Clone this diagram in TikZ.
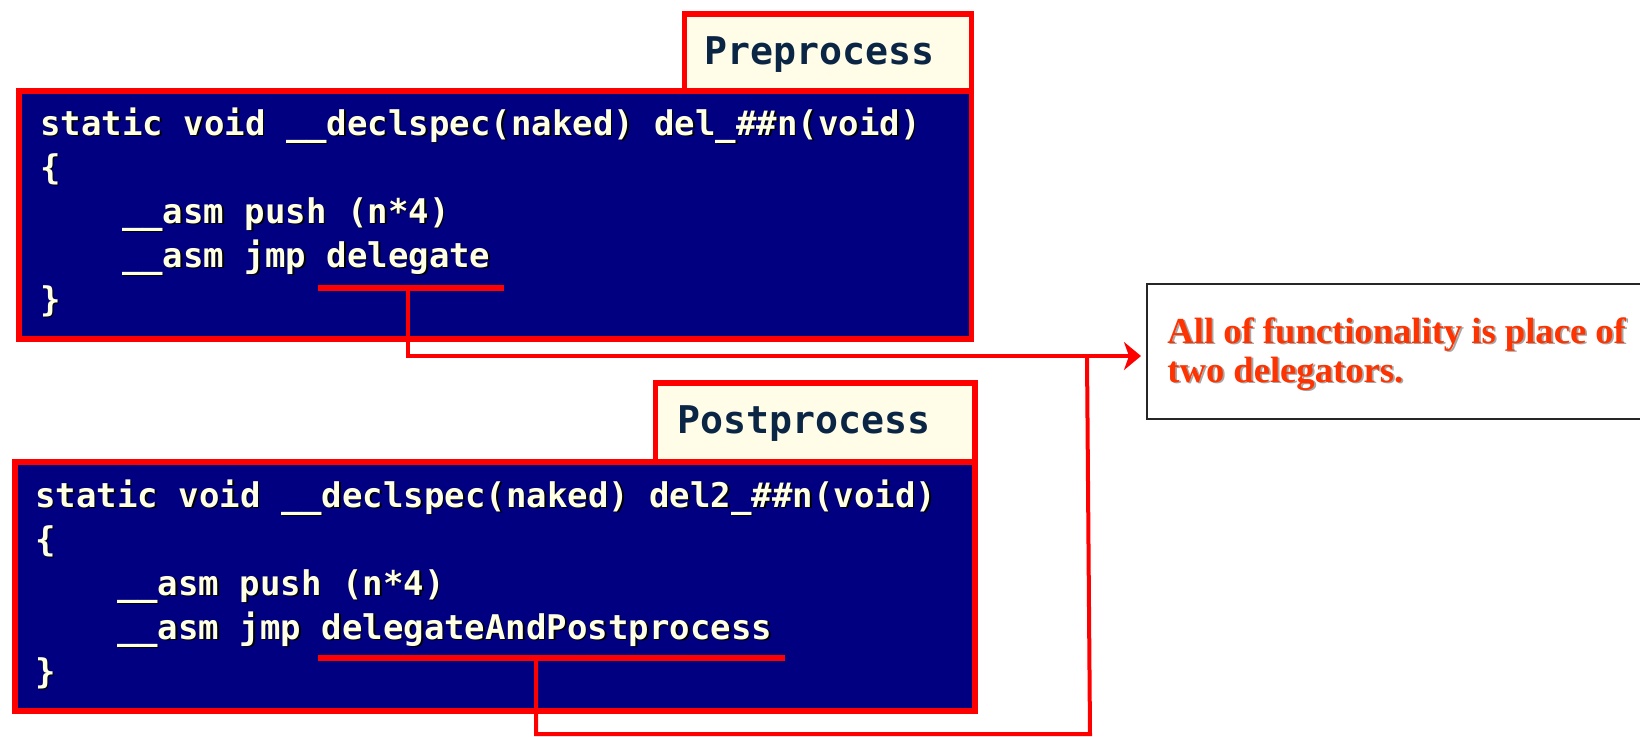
\documentclass[tikz,border=0pt]{standalone}
\usepackage{fontspec}
\usetikzlibrary{arrows.meta}
\newfontfamily\codefont{DejaVu Sans Mono}
\newfontfamily\notefont{Liberation Serif}

\definecolor{codebg}{HTML}{000080}
\definecolor{framered}{HTML}{FF0000}
\definecolor{tabbg}{HTML}{FFFDE8}
\definecolor{tabfg}{HTML}{0B2545}
\definecolor{codefg}{HTML}{FFFFE4}
\definecolor{notefg}{HTML}{FF3300}

\tikzset{
  panel/.style={draw=framered, line width=2.75pt, fill=codebg, inner sep=0pt, anchor=north west},
  tabbox/.style={draw=framered, line width=2.75pt, fill=tabbg, inner sep=0pt, anchor=north west},
  tablabel/.style={anchor=base west, inner sep=0pt, text=tabfg,
    font=\codefont\bfseries\fontsize{19.1}{23}\selectfont},
  codetext/.style={anchor=base west, inner sep=0pt, text=codefg,
    font=\codefont\bfseries\fontsize{17}{22}\selectfont},
  codeshadow/.style={codetext, text=black, xshift=0.75pt, yshift=-0.75pt},
  notebox/.style={draw=black!85, line width=1.1pt, fill=white, inner sep=0pt, anchor=north west},
  notetext/.style={anchor=base west, inner sep=0pt, text=notefg,
    font=\notefont\bfseries\fontsize{18.3}{19.5}\selectfont},
  noteshadow/.style={notetext, text=black!35, xshift=0.9pt, yshift=-0.9pt},
  targetline/.style={draw=framered, line width=2.8pt},
  wire/.style={draw=framered, line width=2.2pt},
}

% one line of code with its drop shadow
\newcommand\codeline[4]{%
  \node[codeshadow] at (#1,#2) {#4};
  \node[codetext] (#3) at (#1,#2) {#4};}

\begin{document}
\begin{tikzpicture}[x=0.5pt,y=-0.5pt]
\useasboundingbox (0,0) rectangle (1640,736);

% ---- upper listing ----
\node[tabbox, minimum width=143.5pt, minimum height=38.5pt] (pretab) at (681.5,11) {};
\node[tablabel] (prelabel) at (704,64) {Preprocess};
\node[panel, minimum width=476.25pt, minimum height=124pt] (prebox) at (16,88) {};

\codeline{40}{135}{p1}{static void \_\_declspec(naked) del\_\#\#n(void)}
\codeline{40}{179}{p2}{\{}
\codeline{121.6}{223}{p3}{\_\_asm push (n*4)}
\codeline{121.6}{267}{p4}{\_\_asm jmp delegate}
\codeline{40}{311}{p5}{\}}

% ---- lower listing ----
\node[tabbox, minimum width=159.75pt, minimum height=39.5pt] (posttab) at (652.5,380) {};
\node[tablabel] (postlabel) at (677,433) {Postprocess};
\node[panel, minimum width=480pt, minimum height=124.5pt] (postbox) at (12,459) {};

\codeline{35}{507}{q1}{static void \_\_declspec(naked) del2\_\#\#n(void)}
\codeline{35}{551}{q2}{\{}
\codeline{116.6}{595}{q3}{\_\_asm push (n*4)}
\codeline{116.6}{639}{q4}{\_\_asm jmp delegateAndPostprocess}
\codeline{35}{683}{q5}{\}}

% ---- note ----
\node[notebox, minimum width=257pt, minimum height=67.5pt] (note) at (1146,283) {};
\node[noteshadow] at (1167,343) {All of functionality is place of};
\node[notetext] (n1) at (1167,343) {All of functionality is place of};
\node[noteshadow] at (1167,382) {two delegators.};
\node[notetext] (n2) at (1167,382) {two delegators.};

% ---- markers under the jump targets ----
\coordinate (u1a) at (318,288);
\coordinate (u1b) at (504,288);
\coordinate (u1m) at (408,288);
\coordinate (u2a) at (318,658);
\coordinate (u2b) at (785,658);
\coordinate (u2m) at (536,658);
\path[targetline] (u1a) -- (u1b);
\path[targetline] (u2a) -- (u2b);

% ---- connectors to the note ----
\coordinate (bend1) at (408,356);
\coordinate (join) at (1087,356);
\coordinate (hit) at (1141,356);
\coordinate (bend2) at (536,734);
\coordinate (bend3) at (1090,734);
\draw[wire, -{Stealth[length=8.5pt, width=14pt, inset=2.5pt]}] (u1m) -- (bend1) -- (hit);
\draw[wire, line width=2pt] (u2m) -- (bend2) -- (bend3) -- (join);
\end{tikzpicture}
\end{document}
